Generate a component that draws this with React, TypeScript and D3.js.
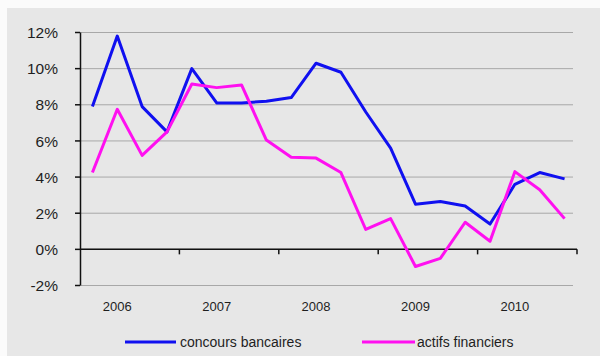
import React from "react";
import * as d3 from "d3";

const years = ["2006", "2007", "2008", "2009", "2010"];
const quarters = d3.range(20);
const concoursBancaires = [7.9, 11.8, 7.9, 6.5, 10.0, 8.1, 8.1, 8.2, 8.4, 10.3, 9.8, 7.6, 5.6, 2.5, 2.65, 2.4, 1.4, 3.6, 4.25, 3.9];
const actifsFinanciers = [4.25, 7.75, 5.2, 6.5, 9.15, 8.95, 9.1, 6.05, 5.1, 5.05, 4.25, 1.1, 1.7, -0.95, -0.5, 1.5, 0.45, 4.3, 3.3, 1.7];
const yTicks = [-2, 0, 2, 4, 6, 8, 10, 12];
const seriesNames = ["concours bancaires", "actifs financiers"];
const colors = ["#1010f0", "#ff10f0"];

export default function App() {
  const W = 600, H = 356;
  const x = d3.scaleBand<number>().domain(quarters).range([80, 577]);
  const y = d3.scaleLinear().domain([-2, 12]).range([285.5, 32.5]);
  const line = d3
    .line<number>()
    .x((_, i) => (x(i) as number) + x.bandwidth() / 2)
    .y((d) => y(d));
  const series = [concoursBancaires, actifsFinanciers];
  const font = "Arial, 'Liberation Sans', sans-serif";
  const textColor = "#1e1e1e";
  return (
    <div style={{ position: "absolute", left: 0, top: 0 }}>
      <svg width={W} height={H} style={{ display: "block" }}>
        <rect x={0} y={0} width={W} height={H} fill="#fbfbfb" />
        <rect x={7} y={8} width={W - 7} height={H - 8} fill="#e7e7e7" />
        {yTicks.map((t) => (
          <line key={"g" + t} x1={80} x2={573} y1={y(t)} y2={y(t)} stroke="#a8a8a8" strokeWidth={1} />
        ))}
        {/* y axis */}
        <line x1={80.5} x2={80.5} y1={y(12)} y2={y(-2)} stroke="#111" strokeWidth={1.5} />
        {yTicks.map((t) => (
          <g key={"yt" + t}>
            <line x1={75} x2={80} y1={y(t)} y2={y(t)} stroke="#111" strokeWidth={1.5} />
            <text x={58} y={y(t)} dy="0.36em" textAnchor="end" fontFamily={font} fontSize={15.5} fill={textColor}>
              {t + "%"}
            </text>
          </g>
        ))}
        {/* x axis at 0 */}
        <line x1={80} x2={577} y1={y(0)} y2={y(0)} stroke="#111" strokeWidth={1.5} />
        {years.map((yr, i) => {
          const xs = x(i * 4) as number;
          return (
            <line key={"xt" + yr} x1={xs + 4 * x.step()} x2={xs + 4 * x.step()} y1={y(0)} y2={y(0) + 5} stroke="#111" strokeWidth={1.5} />
          );
        })}
        {years.map((yr, i) => {
          const xc = (x(i * 4 + 1) as number) + x.bandwidth() / 2;
          return (
            <text key={"xl" + yr} x={xc} y={311} textAnchor="middle" fontFamily={font} fontSize={13} fill={textColor}>
              {yr}
            </text>
          );
        })}
        {series.map((s, i) => (
          <path key={"s" + i} d={line(s) || ""} fill="none" stroke={colors[i]} strokeWidth={3} strokeLinejoin="round" />
        ))}
        {/* legend */}
        {[
          { x1: 125, x2: 176, tx: 180 },
          { x1: 362, x2: 415, tx: 417 },
        ].map((l, i) => (
          <g key={"lg" + i}>
            <line x1={l.x1} x2={l.x2} y1={342} y2={342} stroke={colors[i]} strokeWidth={3} />
            <text x={l.tx} y={342} dy="0.36em" fontFamily={font} fontSize={14} fill={textColor}>
              {seriesNames[i]}
            </text>
          </g>
        ))}
      </svg>
    </div>
  );
}
